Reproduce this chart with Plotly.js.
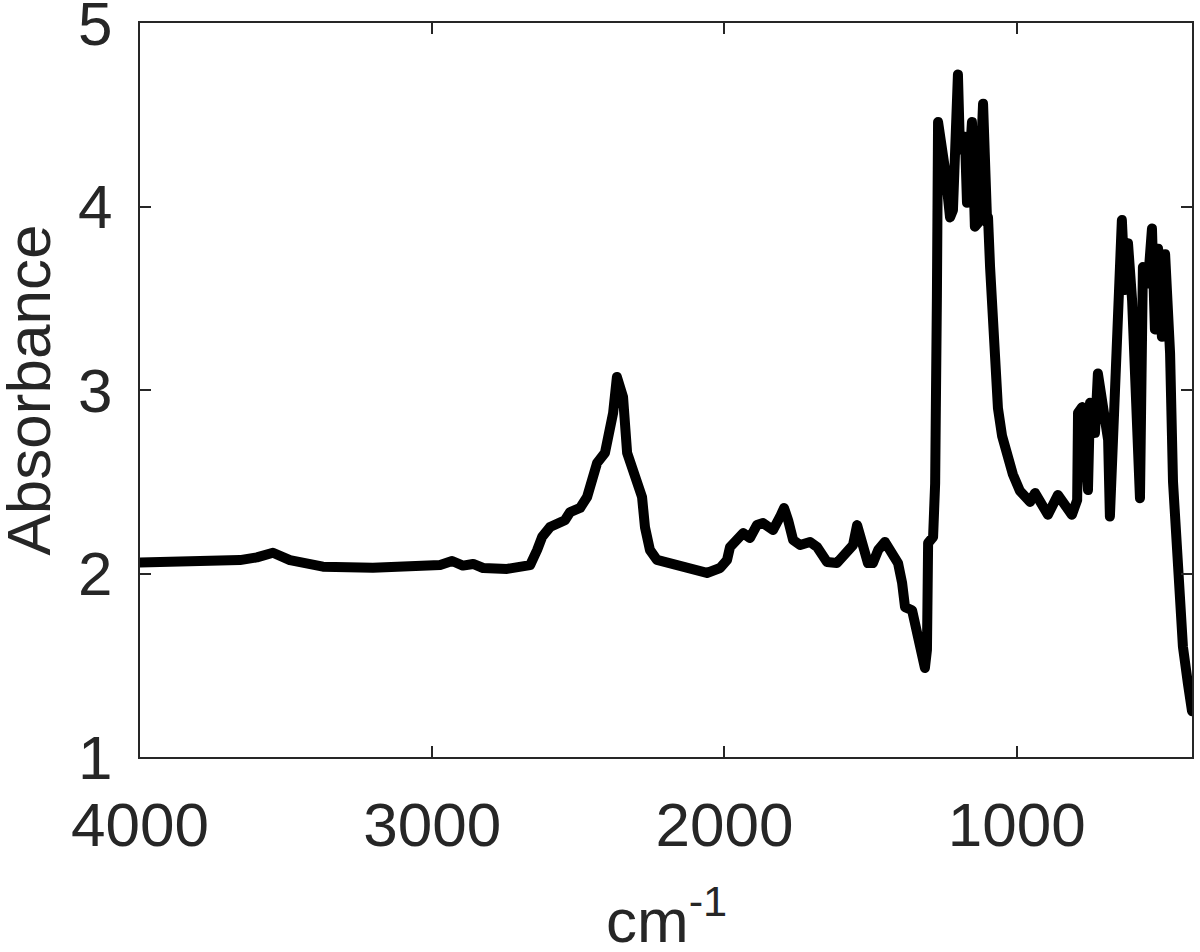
<!DOCTYPE html>
<html>
<head>
<meta charset="utf-8">
<script src="https://cdn.plot.ly/plotly-3.0.1.min.js"></script>
<style>
html,body{margin:0;padding:0;background:#fff;}
#chart{width:1200px;height:952px;}
.js-line{stroke-linejoin:round !important;stroke-linecap:round !important;}
</style>
</head>
<body>
<div id="chart"></div>
<script>
// Wavenumber (cm^-1)
const wavenumber = [4000,3887,3771,3658,3600,3545,3487,3429,3374,3203,2973,2932,2895,2860,2826,2744,2689,
  2665,2641,2624,2597,2563,2546,2528,2494,2470,2453,2436,2409,2392,2381,2368,2357,2347,2333,2313,2296,2282,2272,2255,2231,
  2152,2060,2015,1991,1981,1957,1936,1913,1889,1868,1834,1810,1796,1782,1765,1741,1707,1683,1649,1615,1581,1560,1546,1529,
  1509,1492,1474,1451,1427,1406,1392,1382,1358,1341,1324,1314,1307,1303,1286,1279,1273,1269,
  1245,1228,1218,1211,1201,1194,1177,1170,1153,1143,1132,1115,1108,1101,1098,1091,1081,1074,1064,1050,1033,1013,989,954,937,913,893,
  859,835,811,793,790,776,766,756,749,732,722,705,687,681,670,657,640,629,619,605,588,578,568,551,537,527,516,503,492,482,
  475,465,448,431,414,400];
// Absorbance values
const absorbance = [2.06,2.06,2.064,2.073,2.088,2.113,2.073,2.052,2.037,2.032,2.046,2.068,2.043,2.052,2.03,2.025,2.037,
  2.046,2.128,2.199,2.253,2.28,2.29,2.335,2.357,2.417,2.51,2.602,2.657,2.766,2.875,3.071,3.0,2.962,2.657,2.564,2.51,2.417,2.253,2.128,2.074,
  2.035,2.003,2.03,2.074,2.144,2.183,2.22,2.193,2.264,2.275,2.237,2.308,2.357,2.29,2.183,2.155,2.172,2.144,2.063,2.057,2.112,2.155,2.264,2.166,
  2.057,2.057,2.128,2.172,2.117,2.057,1.948,1.817,1.80,1.676,1.545,1.485,1.583,2.166,2.199,2.49,3.5,4.46,
  4.2,3.94,3.98,4.47,4.72,4.31,4.38,4.02,4.46,3.89,3.91,4.56,4.07,3.91,3.94,3.67,3.4,3.13,2.9,2.75,2.64,2.54,2.45,2.39,2.439,2.362,2.32,
  2.428,2.373,2.32,2.4,2.875,2.907,2.58,2.455,2.93,2.766,3.09,2.945,2.727,2.31,2.766,3.49,3.926,3.545,3.8,3.49,2.945,2.41,3.67,3.58,3.88,3.33,3.77,3.29,3.74,3.4,
  3.2,2.5,1.96,1.6,1.4,1.25];
const xTicks = [4000,3000,2000,1000];
const yTicks = [1,2,3,4,5];
const xTitle = 'cm<sup>-1</sup>';
const yTitle = 'Absorbance';

const fontFam = '"Liberation Sans", Arial, Helvetica, sans-serif';
const axisColor = '#262626';
const textFont = {family: fontFam, size: 62, color: '#262626'};

const trace = {
  x: wavenumber, y: absorbance, type: 'scatter', mode: 'lines',
  line: {color: '#000000', width: 10, shape: 'linear'},
  hoverinfo: 'x+y'
};

const layout = {
  width: 1200, height: 952,
  margin: {l: 140, r: 8, t: 23, b: 195},
  paper_bgcolor: '#ffffff', plot_bgcolor: '#ffffff',
  showlegend: false,
  font: textFont,
  xaxis: {
    range: [4000, 400], autorange: false,
    tickvals: xTicks, ticktext: xTicks.map(String),
    ticks: 'inside', ticklen: 11, tickwidth: 2, tickcolor: axisColor,
    showline: true, linecolor: axisColor, linewidth: 2, mirror: 'ticks',
    showgrid: false, zeroline: false,
    tickfont: textFont,
    ticklabelstandoff: 13, ticklabeloverflow: 'allow'
  },
  yaxis: {
    range: [1, 5], autorange: false,
    tickvals: yTicks, ticktext: yTicks.map(String),
    ticks: 'inside', ticklen: 11, tickwidth: 2, tickcolor: axisColor,
    showline: true, linecolor: axisColor, linewidth: 2, mirror: 'ticks',
    showgrid: false, zeroline: false,
    tickfont: textFont,
    ticklabelstandoff: 13, ticklabeloverflow: 'allow'
  },
  annotations: [
    {text: xTitle, xref: 'paper', yref: 'paper', x: 0.5, y: 0, xanchor: 'center', yanchor: 'bottom',
     yshift: -200, showarrow: false, font: textFont},
    {text: yTitle, xref: 'paper', yref: 'paper', x: 0, y: 0.5, xanchor: 'right', yanchor: 'middle',
     xshift: -76, textangle: -90, showarrow: false, font: textFont}
  ]
};

Plotly.newPlot('chart', [trace], layout, {displayModeBar: false, staticPlot: true});
</script>
</body>
</html>
